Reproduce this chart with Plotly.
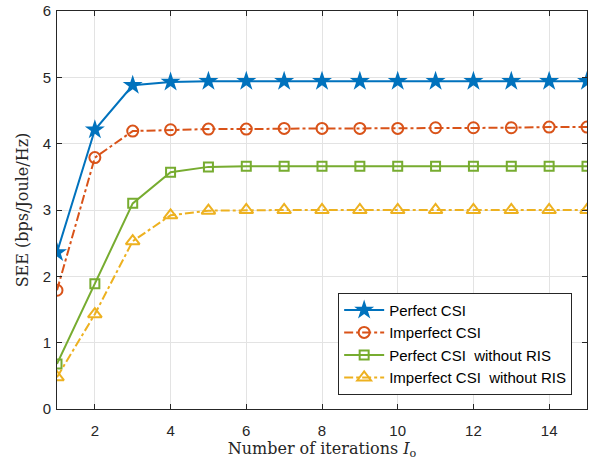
import plotly.graph_objects as go

iterations = list(range(1, 16))
perfect_csi = [2.36, 4.21, 4.88, 4.93, 4.94, 4.94, 4.94, 4.94, 4.94, 4.94, 4.94, 4.94, 4.94, 4.94, 4.94]
imperfect_csi = [1.79, 3.79, 4.19, 4.21, 4.22, 4.22, 4.23, 4.23, 4.23, 4.23, 4.24, 4.24, 4.24, 4.25, 4.25]
perfect_no_ris = [0.68, 1.89, 3.10, 3.57, 3.65, 3.66, 3.66, 3.66, 3.66, 3.66, 3.66, 3.66, 3.66, 3.66, 3.66]
imperfect_no_ris = [0.48, 1.43, 2.53, 2.92, 2.99, 3.0, 3.0, 3.0, 3.0, 3.0, 3.0, 3.0, 3.0, 3.0, 3.0]

series = [
    ("Perfect CSI", perfect_csi, "#0072BD", "solid", "star", 15, True),
    ("Imperfect CSI", imperfect_csi, "#D95319", "dashdot", "circle-open", 11, False),
    ("Perfect CSI  without RIS", perfect_no_ris, "#77AC30", "solid", "square-open", 9, False),
    ("Imperfect CSI  without RIS", imperfect_no_ris, "#EDB120", "dashdot", "triangle-up-open", 12, False),
]

fig = go.Figure()
for name, ys, color, dash, sym, size, filled in series:
    fig.add_trace(go.Scatter(
        x=iterations, y=ys, name=name, mode="lines+markers",
        line=dict(color=color, width=2, dash=dash),
        marker=dict(symbol=sym, size=size, color=color,
                    line=dict(color=color, width=2 if not filled else 0)),
    ))

axis_common = dict(
    showgrid=True, gridcolor="#e3e3e3", gridwidth=1,
    showline=True, linecolor="#262626", linewidth=1, mirror="ticks",
    ticks="inside", ticklen=5, tickcolor="#262626",
    tickfont=dict(family="Liberation Sans, Arial", size=15, color="#262626"),
    zeroline=False, automargin=False,
)

title_font = dict(family="DejaVu Serif, Liberation Serif", size=16, color="#262626")

fig.update_layout(
    width=589, height=460,
    margin=dict(l=57, r=2, t=11, b=51),
    paper_bgcolor="white", plot_bgcolor="white",
    xaxis=dict(range=[1, 15], tickvals=[2, 4, 6, 8, 10, 12, 14],
               ticklabelstandoff=8,
               title=dict(text="Number of iterations <i>I</i><sub>o</sub>",
                          font=title_font, standoff=4),
               **axis_common),
    yaxis=dict(range=[0, 6], tickvals=[0, 1, 2, 3, 4, 5, 6],
               ticklabelstandoff=2,
               title=dict(text="SEE (bps/Joule/Hz)", font=title_font, standoff=10),
               **axis_common),
    legend=dict(x=0.972, y=0.036, xanchor="right", yanchor="bottom",
                bgcolor="white", bordercolor="#262626", borderwidth=1,
                font=dict(family="Liberation Sans, Arial", size=15, color="#000000"),
                tracegroupgap=0, itemwidth=40),
    showlegend=True,
)

fig.write_html("out.html", config={"displayModeBar": False},
               post_script="document.body.style.margin='0';document.body.style.overflow='hidden';")
